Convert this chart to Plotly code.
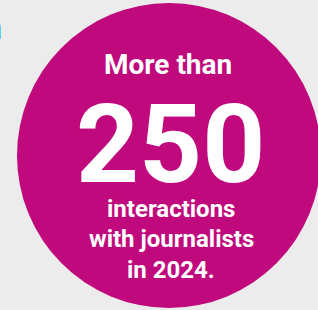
import plotly.graph_objects as go

# ---- data ----
headline_prefix = "More than"
headline_value = 250
caption_lines = ["interactions", "with journalists", "in 2024."]
side_heading_tail = "n"   # cropped end of a heading at the left edge

W, H = 318, 310
MAGENTA = "#C0097D"
BG = "#ECECEC"
BLUE = "#00A3E6"
FONT = "Roboto"

fig = go.Figure()

fig.add_shape(type="circle", xref="x", yref="y",
              x0=17, x1=321, y0=3, y1=308,
              fillcolor=MAGENTA, line=dict(width=0), layer="below")

def ann(text, x, y, size, color="white", xanchor="center"):
    fig.add_annotation(x=x, y=y, xref="x", yref="y", text=text, showarrow=False,
                       xanchor=xanchor, yanchor="middle",
                       font=dict(family=FONT, size=size, color=color, weight="bold"))

ann(headline_prefix, 168, 64, 28)
ann(str(headline_value), 170, 144, 110)
caption_y = [209, 239, 270]
for t, y in zip(caption_lines, caption_y):
    ann(t, 171, y, 24)

ann(side_heading_tail, 4, 27, 34, color=BLUE, xanchor="right")

fig.update_xaxes(range=[0, W], visible=False, fixedrange=True)
fig.update_yaxes(range=[H, 0], visible=False, fixedrange=True)
fig.update_layout(width=W, height=H, margin=dict(l=0, r=0, t=0, b=0),
                  paper_bgcolor=BG, plot_bgcolor=BG, showlegend=False)

fig.write_html("out.html", config={"displayModeBar": False},
               post_script="document.body.style.margin='0';document.body.style.overflow='hidden';")
